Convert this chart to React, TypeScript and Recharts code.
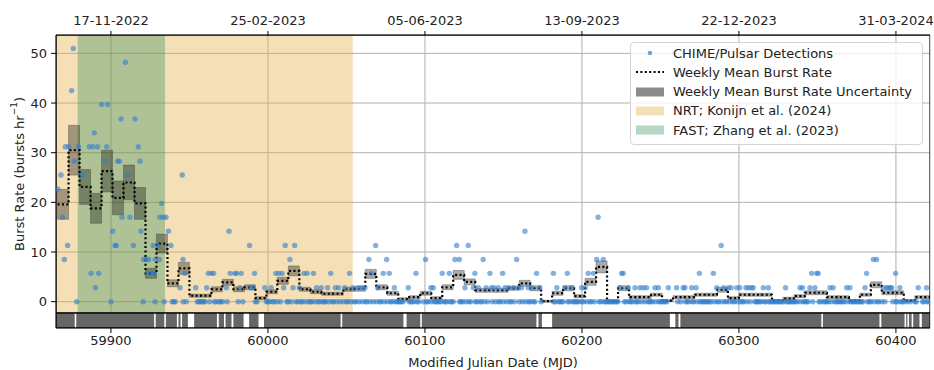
import React from 'react';
import { ComposedChart, XAxis, YAxis, CartesianGrid, Scatter, Line, ReferenceArea } from 'recharts';

// axes
const mjdTicks = [59900, 60000, 60100, 60200, 60300, 60400];
const dateLabels = ['17-11-2022', '25-02-2023', '05-06-2023', '13-09-2023', '22-12-2023', '31-03-2024'];
const rateTicks = [0, 10, 20, 30, 40, 50];

const X_MIN = 59865;
const X_MAX = 60421.7;
const Y_MIN = -5.3;
const Y_MAX = 53.7;
const STRIP_TOP = -2.27; // exposure strip sits under the main panel

// other telescopes' campaigns
const nrtSpan = [X_MIN, 60054];
const fastSpan = [59878.8, 59934.4];

// weekly binned burst rate (bursts / hr)
const firstWeekStart = 59866;
const weekLength = 7;
const weeklyMean = [
  19.6, 30.5, 23.1, 18.8, 26.3, 20.9, 24.0, 19.8, 5.7, 11.7,
  3.7, 6.7, 1.2, 1.2, 2.5, 3.9, 2.5, 2.9, 0.7, 2.0,
  4.2, 6.2, 2.5, 2.0, 1.6, 1.6, 2.5, 2.6, 5.6, 2.9,
  1.7, 0.5, 0.9, 1.7, 0.7, 2.9, 5.4, 4.0, 2.3, 2.3,
  2.3, 2.7, 3.7, 2.7, 0.1, 1.7, 2.7, 1.1, 4.0, 7.0,
  0.1, 2.7, 0.9, 0.9, 1.4, 0.2, 0.9, 0.9, 1.4, 1.4,
  2.4, 0.7, 1.4, 1.4, 1.4, 0.2, 0.6, 1.1, 1.8, 1.8,
  0.9, 0.9, 0.2, 1.4, 3.4, 1.8, 1.8, 0.2, 0.9, 0.9,
];
const weeklyErr = [
  3.0, 5.0, 3.5, 3.0, 4.2, 3.4, 3.5, 3.2, 1.0, 1.9,
  0.7, 1.2, 0.3, 0.3, 0.5, 0.6, 0.5, 0.5, 0.3, 0.4,
  0.7, 1.0, 0.4, 0.4, 0.3, 0.3, 0.4, 0.5, 0.9, 0.5,
  0.4, 0.3, 0.3, 0.4, 0.3, 0.5, 0.9, 0.6, 0.4, 0.4,
  0.4, 0.4, 0.6, 0.5, 0.2, 0.4, 0.5, 0.3, 0.7, 1.2,
  0.2, 0.5, 0.3, 0.3, 0.3, 0.2, 0.3, 0.3, 0.3, 0.3,
  0.5, 0.3, 0.3, 0.3, 0.3, 0.2, 0.3, 0.3, 0.4, 0.4,
  0.3, 0.3, 0.2, 0.3, 0.6, 0.4, 0.4, 0.2, 0.3, 0.3,
];

// CHIME/Pulsar transits [MJD, burst rate]
const detectionsFast: [number, number][] = [
  [59866.1, 22.7], [59868.2, 25.5], [59869.2, 17.0], [59870.3, 8.5], [59870.9, 31.2], [59872.4, 11.3],
  [59873.1, 31.2], [59875.0, 42.5], [59876.0, 51.0], [59876.7, 28.3], [59878.2, 0], [59879.4, 31.2],
  [59882.0, 25.5], [59886.2, 31.2], [59887.3, 5.7], [59888.4, 31.2], [59889.4, 34.0], [59890.1, 2.8],
  [59891.5, 31.2], [59892.2, 5.7], [59894.1, 39.7], [59896.4, 28.3], [59897.3, 31.2], [59897.9, 39.7],
  [59900.0, 0], [59901.1, 14.2], [59902.6, 11.3], [59903.4, 11.3], [59904.3, 28.3], [59905.3, 28.3],
  [59906.4, 36.8], [59907.0, 17.0], [59909.2, 48.2], [59910.6, 25.5], [59912.1, 17.0], [59914.3, 11.3],
  [59915.3, 36.8], [59917.4, 31.2], [59918.5, 28.3], [59919.1, 14.2], [59920.6, 0], [59920.8, 8.5],
  [59922.6, 8.5], [59923.4, 5.7], [59924.0, 8.5], [59926.6, 5.7], [59926.9, 11.3], [59927.4, 5.7],
  [59928.1, 0], [59928.3, 8.5], [59929.8, 11.3], [59930.8, 8.5], [59931.2, 17.0], [59932.3, 19.8],
  [59933.3, 17.0], [59934.0, 0], [59935.1, 17.0], [59936.6, 14.2], [59938.2, 11.3],
];
const detectionsNrt: [number, number][] = [
  [59944, 2.8], [59945.4, 25.5], [59945.9, 8.5], [59947, 5.7], [59954, 2.8], [59961, 2.8],
  [59962, 5.7], [59964, 5.7], [59965.4, 5.7], [59973.5, 2.8], [59975.2, 14.2], [59976, 5.7],
  [59979, 5.7], [59980, 5.7], [59982, 2.8], [59983, 5.7], [59988.3, 11.3], [59989, 2.8],
  [59990, 2.8], [59991.5, 5.7], [59998, 2.8], [60002, 2.8], [60005, 5.7], [60007, 5.7],
  [60009, 5.7], [60010, 2.8], [60011, 11.3], [60014, 8.5], [60016, 2.8], [60017, 11.3],
  [60020, 2.8], [60023, 5.7], [60025, 5.7], [60029, 5.7], [60031, 2.8], [60034, 2.8],
  [60038, 2.8], [60040, 5.7], [60043, 2.8], [60045, 2.8], [60049, 2.8], [60052, 5.7], [60054, 2.8],
];
const detectionsMid2023: [number, number][] = [
  [60057.5, 2.8], [60059.6, 2.8], [60061.8, 2.8], [60064.3, 8.5], [60066, 5.7], [60068.6, 11.3],
  [60070, 2.8], [60073.4, 5.7], [60075.6, 8.5], [60077.3, 5.7], [60080.5, 2.8], [60089.4, 2.8],
  [60094.3, 5.7], [60100.4, 8.5], [60103.8, 2.8], [60105.3, 2.8], [60111, 5.7], [60115.5, 5.7],
  [60119.1, 8.5], [60120.2, 11.3], [60121.9, 8.5], [60125.5, 2.8], [60127.6, 11.3], [60130.8, 2.8],
  [60131.8, 5.7], [60134, 2.8], [60137.1, 8.5], [60139, 2.8], [60141.4, 5.7], [60142.4, 2.8],
  [60144, 2.8], [60146.7, 2.8], [60149.5, 5.7], [60151, 2.8], [60153, 2.8], [60156.3, 2.8],
  [60158.4, 8.5], [60159.5, 2.8], [60161.5, 2.8], [60163.7, 14.2], [60165.8, 2.8], [60168, 2.8],
  [60171.1, 5.7], [60173.2, 2.8],
];
const detectionsLate2023: [number, number][] = [
  [60181.8, 5.7], [60184, 2.8], [60189.2, 2.8], [60190.7, 5.7], [60193.5, 2.8], [60199.8, 2.8],
  [60202, 2.8], [60204, 5.7], [60207.3, 5.7], [60209.4, 8.5], [60210.3, 17.0], [60213.6, 8.5],
  [60224.2, 2.8], [60225.3, 5.7], [60226.3, 5.7], [60229.6, 2.8], [60233.8, 2.8], [60237, 2.8],
  [60239.1, 2.8], [60241.2, 2.8], [60246.5, 2.8], [60248.7, 2.8], [60255, 2.8], [60260.3, 2.8],
  [60264.5, 2.8], [60265.6, 2.8], [60269.9, 2.8], [60272.7, 2.8], [60274.8, 5.7], [60283.7, 5.7],
  [60285.8, 2.8], [60288.7, 11.3], [60290.3, 2.8], [60293.3, 2.8], [60295, 2.8], [60298.6, 2.8],
];
const detections2024: [number, number][] = [
  [60300.6, 2.8], [60304.5, 2.8], [60306, 2.8], [60308, 2.8], [60309.1, 2.8], [60315.5, 2.8],
  [60318.7, 2.8], [60329.7, 2.8], [60338.9, 2.8], [60340.5, 2.8], [60345.2, 2.8], [60346.3, 5.7],
  [60348.4, 2.8], [60349.5, 5.7], [60350.5, 5.7], [60358, 2.8], [60360, 2.8], [60368.6, 2.8],
  [60370.7, 2.8], [60380.3, 2.8], [60381.3, 5.7], [60385.6, 8.5], [60387.7, 8.5], [60392, 2.8],
  [60394, 2.8], [60395.2, 2.8], [60396.5, 2.8], [60397.3, 2.8], [60399.8, 5.7], [60402.5, 2.8],
  [60414.2, 2.8], [60419.5, 2.8],
];

// days without CHIME/Pulsar exposure [start, end]
const exposureGaps: [number, number][] = [
  [59876.9, 59877.9], [59927.5, 59928.5], [59934, 59935], [59942, 59943], [59944.3, 59945.3],
  [59949, 59953], [59967.5, 59968.7], [59972, 59973], [59976.8, 59978], [59984.5, 59988],
  [59994, 59997.5], [60046.3, 60047.3], [60086.3, 60088.3], [60097, 60098], [60171, 60172.3],
  [60174.5, 60181], [60256, 60259.5], [60261.5, 60262.7], [60352.5, 60353.5], [60389.5, 60390.7],
  [60405.5, 60406.5], [60407.3, 60408.3], [60410, 60411], [60415, 60416.5],
];
// from here on every exposed day without a burst is plotted at zero
const dailyZeroStart = 59939;

const BLUE = '#2f7fd0';
const TAN = '#e3b04b';
const GREEN = '#2e8b57';

const allDetections = [
  ...detectionsFast, ...detectionsNrt, ...detectionsMid2023, ...detectionsLate2023, ...detections2024,
];
const detectedDays = new Set(allDetections.map(([d]) => Math.floor(d)));
const inGap = (d: number) => exposureGaps.some(([a, b]) => d >= a && d <= b);

const zeroPoints: { x: number; y: number }[] = [];
for (let d = dailyZeroStart; d <= Math.floor(X_MAX); d++) {
  if (!inGap(d) && !detectedDays.has(d)) zeroPoints.push({ x: d, y: 0 });
}
const scatterPoints = [...allDetections.map(([x, y]) => ({ x, y })), ...zeroPoints];

const weekStart = (i: number) => firstWeekStart + i * weekLength;
const meanSteps = [
  ...weeklyMean.map((m, i) => ({ x: weekStart(i), y: m })),
  { x: weekStart(weeklyMean.length), y: weeklyMean[weeklyMean.length - 1] },
];

const legendLabels = [
  'CHIME/Pulsar Detections',
  'Weekly Mean Burst Rate',
  'Weekly Mean Burst Rate Uncertainty',
  'NRT; Konijn et al. (2024)',
  'FAST; Zhang et al. (2023)',
];

const Dot = (props: any) => (
  <circle cx={props.cx} cy={props.cy} r={2.7} fill={BLUE} fillOpacity={0.6} />
);

const YTitle = (props: any) => {
  const vb = props.viewBox || { x: 0, y: 35 };
  const x = vb.x + 19;
  const y = 174;
  return (
    <text
      x={x}
      y={y}
      transform={`rotate(-90 ${x} ${y})`}
      textAnchor="middle"
      dominantBaseline="central"
      fontSize={13}
      fill="#222"
    >
      Burst Rate (bursts hr<tspan dy={-5} fontSize={9}>−1</tspan>
      <tspan dy={5}>)</tspan>
    </text>
  );
};

const handle = (i: number) => {
  if (i === 0) return <circle cx={14} cy={6} r={2.3} fill={BLUE} fillOpacity={0.7} />;
  if (i === 1) return <line x1={0} x2={28} y1={6} y2={6} stroke="#000" strokeWidth={2} strokeDasharray="2 2.4" />;
  if (i === 2) return <rect x={0} y={1.5} width={28} height={9} fill="#000" fillOpacity={0.45} />;
  if (i === 3) return <rect x={0} y={1.5} width={28} height={9} fill={TAN} fillOpacity={0.4} />;
  return <rect x={0} y={1.5} width={28} height={9} fill={GREEN} fillOpacity={0.35} />;
};

const LegendBox = () => (
  <div
    style={{
      position: 'absolute', left: 630, top: 42, width: 293, height: 103,
      border: '1px solid #d4d4d4', borderRadius: 4, background: 'rgba(255,255,255,0.8)',
      boxSizing: 'border-box', fontSize: 13, color: '#222',
    }}
  >
    {legendLabels.map((label, i) => (
      <div
        key={label}
        style={{
          position: 'absolute', left: 0, top: 0.7 + i * 19.2, height: 19.2,
          display: 'flex', alignItems: 'center', whiteSpace: 'nowrap',
        }}
      >
        <svg width={28} height={12} style={{ marginLeft: 5, marginRight: 9 }}>{handle(i)}</svg>
        <span>{label}</span>
      </div>
    ))}
  </div>
);

export default function App() {
  return (
    <div
      style={{
        position: 'absolute', left: 0, top: 0, width: 934, height: 370,
        background: '#fff', fontFamily: '"DejaVu Sans", sans-serif',
      }}
    >
      <ComposedChart width={934} height={370} margin={{ top: 0, right: 4, bottom: 0, left: 0 }}>
        <CartesianGrid stroke="#b0b0b0" strokeWidth={1} />
        <XAxis
          type="number"
          dataKey="x"
          domain={[X_MIN, X_MAX]}
          ticks={mjdTicks}
          allowDataOverflow
          height={42}
          tickSize={5}
          tickMargin={3}
          tick={{ fontSize: 13, fill: '#222' }}
          tickLine={{ stroke: '#000' }}
          axisLine={{ stroke: '#000' }}
          label={{ value: 'Modified Julian Date (MJD)', position: 'insideBottom', offset: 3, fontSize: 13, fill: '#222' }}
        />
        <XAxis
          xAxisId="top"
          orientation="top"
          type="number"
          dataKey="x"
          domain={[X_MIN, X_MAX]}
          ticks={mjdTicks}
          allowDataOverflow
          height={35}
          tickSize={4}
          tickMargin={6}
          tickFormatter={(v: number) => dateLabels[mjdTicks.indexOf(v)]}
          tick={{ fontSize: 13, fill: '#222' }}
          tickLine={{ stroke: '#000' }}
          axisLine={{ stroke: '#000' }}
        />
        <YAxis
          type="number"
          dataKey="y"
          domain={[Y_MIN, Y_MAX]}
          ticks={rateTicks}
          allowDataOverflow
          width={56}
          tickSize={5}
          tickMargin={4}
          tick={{ fontSize: 13, fill: '#222' }}
          tickLine={{ stroke: '#000' }}
          axisLine={{ stroke: '#000' }}
          label={<YTitle />}
        />
        <ReferenceArea x1={nrtSpan[0]} x2={nrtSpan[1]} y1={STRIP_TOP} y2={Y_MAX} fill={TAN} fillOpacity={0.4} ifOverflow="hidden" />
        <ReferenceArea x1={fastSpan[0]} x2={fastSpan[1]} y1={STRIP_TOP} y2={Y_MAX} fill={GREEN} fillOpacity={0.35} ifOverflow="hidden" />
        <ReferenceArea x1={X_MIN} x2={X_MAX} y1={Y_MIN} y2={STRIP_TOP} fill="#666" fillOpacity={1} ifOverflow="hidden" />
        {exposureGaps.map(([a, b]) => (
          <ReferenceArea key={`gap-${a}`} x1={a} x2={b} y1={Y_MIN} y2={STRIP_TOP} fill="#fff" fillOpacity={1} ifOverflow="hidden" />
        ))}
        <Scatter data={scatterPoints} shape={Dot} isAnimationActive={false} />
        {weeklyMean.map((m, i) => (
          <ReferenceArea
            key={`err-${i}`}
            x1={weekStart(i)}
            x2={weekStart(i + 1)}
            y1={m - weeklyErr[i]}
            y2={m + weeklyErr[i]}
            fill="#000"
            fillOpacity={0.33}
            stroke="#333"
            strokeOpacity={0.35}
            ifOverflow="hidden"
          />
        ))}
        <Line
          data={meanSteps}
          dataKey="y"
          type="stepAfter"
          stroke="#000"
          strokeWidth={2.2}
          strokeDasharray="2 2.4"
          dot={false}
          isAnimationActive={false}
        />
        <ReferenceArea x1={X_MIN} x2={X_MAX} y1={STRIP_TOP} y2={Y_MAX} fill="none" stroke="#000" ifOverflow="hidden" />
        <ReferenceArea x1={X_MIN} x2={X_MAX} y1={Y_MIN} y2={STRIP_TOP} fill="none" stroke="#000" ifOverflow="hidden" />
      </ComposedChart>
      <LegendBox />
    </div>
  );
}
